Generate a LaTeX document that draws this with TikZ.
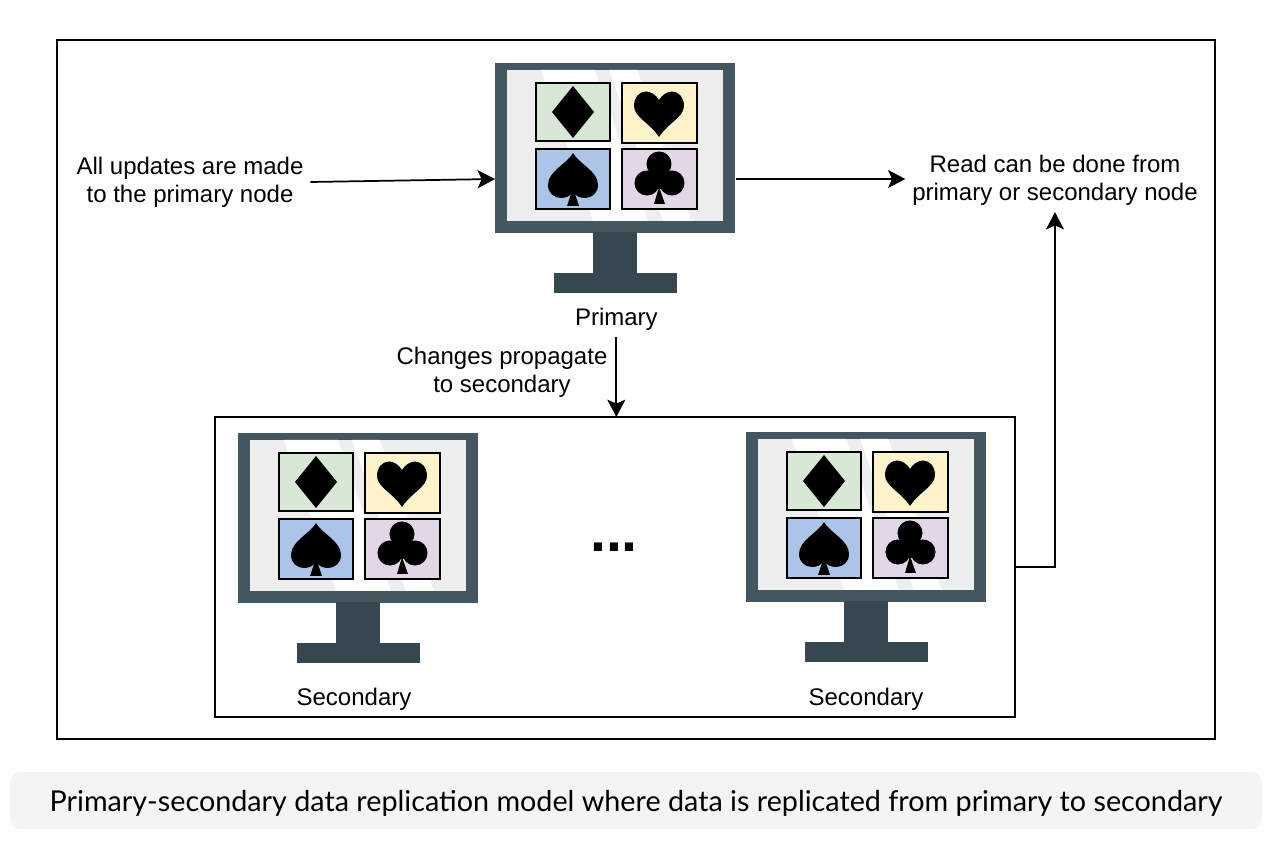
\documentclass[tikz,border=0pt]{standalone}
\usepackage{fontspec}
\setmainfont{Liberation Sans}
\newfontfamily\captionfont{Lato}
\usetikzlibrary{arrows.meta, positioning}
\definecolor{FrameColor}{HTML}{445760}
\definecolor{StandColor}{HTML}{37474F}
\definecolor{ScreenColor}{HTML}{EEEEEE}
\definecolor{GreenTile}{HTML}{D9E7D6}
\definecolor{YellowTile}{HTML}{FFF3CC}
\definecolor{BlueTile}{HTML}{ADC4E9}
\definecolor{PurpleTile}{HTML}{E1D7E7}
\definecolor{CaptionColor}{HTML}{F4F4F4}
\tikzset{
    tile/.style={draw=black, line width=1.5pt},
    suit/.style={fill=black},
    pics/monitor/.style={code={
        \node[fill=FrameColor, anchor=north west, inner sep=0pt, outer sep=0pt, minimum width=180pt, minimum height=127.5pt] (-frame) at (0,0) {};
        \coordinate (-in) at (0,116);
        \coordinate (-out) at (241,116);
        \fill[ScreenColor] (12,7) rectangle (228,158);
        \fill[white] (46,7) -- (100,7) -- (153,158) -- (98,158) -- cycle;
        \fill[white] (114,7) -- (142,7) -- (196,158) -- (168,158) -- cycle;
        \fill[StandColor] (98,169) rectangle (142,210);
        \node[fill=StandColor, anchor=north west, inner sep=0pt, outer sep=0pt, minimum width=92.25pt, minimum height=15pt] (-base) at (58.5,210) {};
        \draw[tile, fill=GreenTile] (41,20) rectangle (115,78);
        \draw[tile, fill=YellowTile] (127,20) rectangle (202,80);
        \draw[tile, fill=BlueTile] (41,86) rectangle (115,146);
        \draw[tile, fill=PurpleTile] (127,86) rectangle (202,146);
        \fill[suit] (78,23) -- (99,49) -- (78,75) -- (57,49) -- cycle;
        \fill[suit] (164,37) .. controls (161,32) and (156,28.5) .. (151,28.5) .. controls (144,28.5) and (139,35) .. (139,43) .. controls (139,54) and (155,60) .. (164,74) .. controls (173,60) and (189,54) .. (189,43) .. controls (189,35) and (184,28.5) .. (177,28.5) .. controls (172,28.5) and (167,32) .. (164,37) -- cycle;
        \fill[suit] (78,90) .. controls (72,101) and (53,108) .. (53,122) .. controls (53,130) and (59,135) .. (66,135) .. controls (71,135) and (76,133) .. (78,128) .. controls (80,133) and (85,135) .. (90,135) .. controls (97,135) and (103,130) .. (103,122) .. controls (103,108) and (84,101) .. (78,90) -- cycle;
        \fill[suit] (78,125) -- (84,143) -- (72,143) -- cycle;
        \fill[suit] (164,101) circle[radius=9.4pt];
        \fill[suit] (152,120) circle[radius=9.4pt];
        \fill[suit] (177,120) circle[radius=9.4pt];
        \fill[suit] (155,108) rectangle (174,126);
        \fill[suit] (164,124) -- (170,141) -- (159,141) -- cycle;
    }}
}
\begin{document}
\begin{tikzpicture}[
    x=0.75pt, y=-0.75pt,
    font=\fontsize{18}{21}\selectfont,
    box/.style={draw=black, line width=1.5pt, inner sep=0pt, outer sep=0pt, anchor=north west},
    txt/.style={align=center, inner sep=5pt},
    arrow/.style={-{Stealth[length=13pt, width=13.5pt, inset=3pt]}, line width=1.3pt}
]
    \useasboundingbox (0,0) rectangle (1268,862);
    \node[box, minimum width=868.5pt, minimum height=524.25pt] (outer) at (57,40) {};
    \node[box, minimum width=600pt, minimum height=225pt] (group) at (215,417) {};

    \pic (primary) at (495,63) {monitor};
    \pic (left) at (238,433) {monitor};
    \pic (right) at (746,432) {monitor};

    \node[txt] (updates) at (190,182) {All updates are made\\to the primary node};
    \node[txt] (read) at (1055,180) {Read can be done from\\primary or secondary node};
    \node[txt, below=6pt of primary-base, xshift=1pt] (primarylabel) {Primary};
    \node[txt] (changes) at (502,372) {Changes propagate\\to secondary};
    \node[txt] (leftlabel) at (354,699) {Secondary};
    \node[txt] (rightlabel) at (866,699) {Secondary};
    \node[font=\fontsize{43}{43}\selectfont\bfseries, inner sep=0pt, anchor=base] (dots) at (614,552) {...};

    \node[fill=CaptionColor, rounded corners=7.5pt, inner sep=0pt, outer sep=0pt, minimum width=939pt, minimum height=42.75pt, font=\captionfont\fontsize{21.55}{24}\selectfont] (caption) at (636,800.5) {\raisebox{-8.2pt}[0pt][0pt]{Primary-secondary data replication model where data is replicated from primary to secondary}};

    \draw[arrow] (updates.east) -- (primary-in);
    \draw[arrow] (primary-out) -- (primary-out -| read.west);
    \draw[arrow] (primarylabel.south) -- (group.north -| primarylabel.south);
    \draw[arrow] (group.east) -| (read.south);
\end{tikzpicture}
\end{document}
